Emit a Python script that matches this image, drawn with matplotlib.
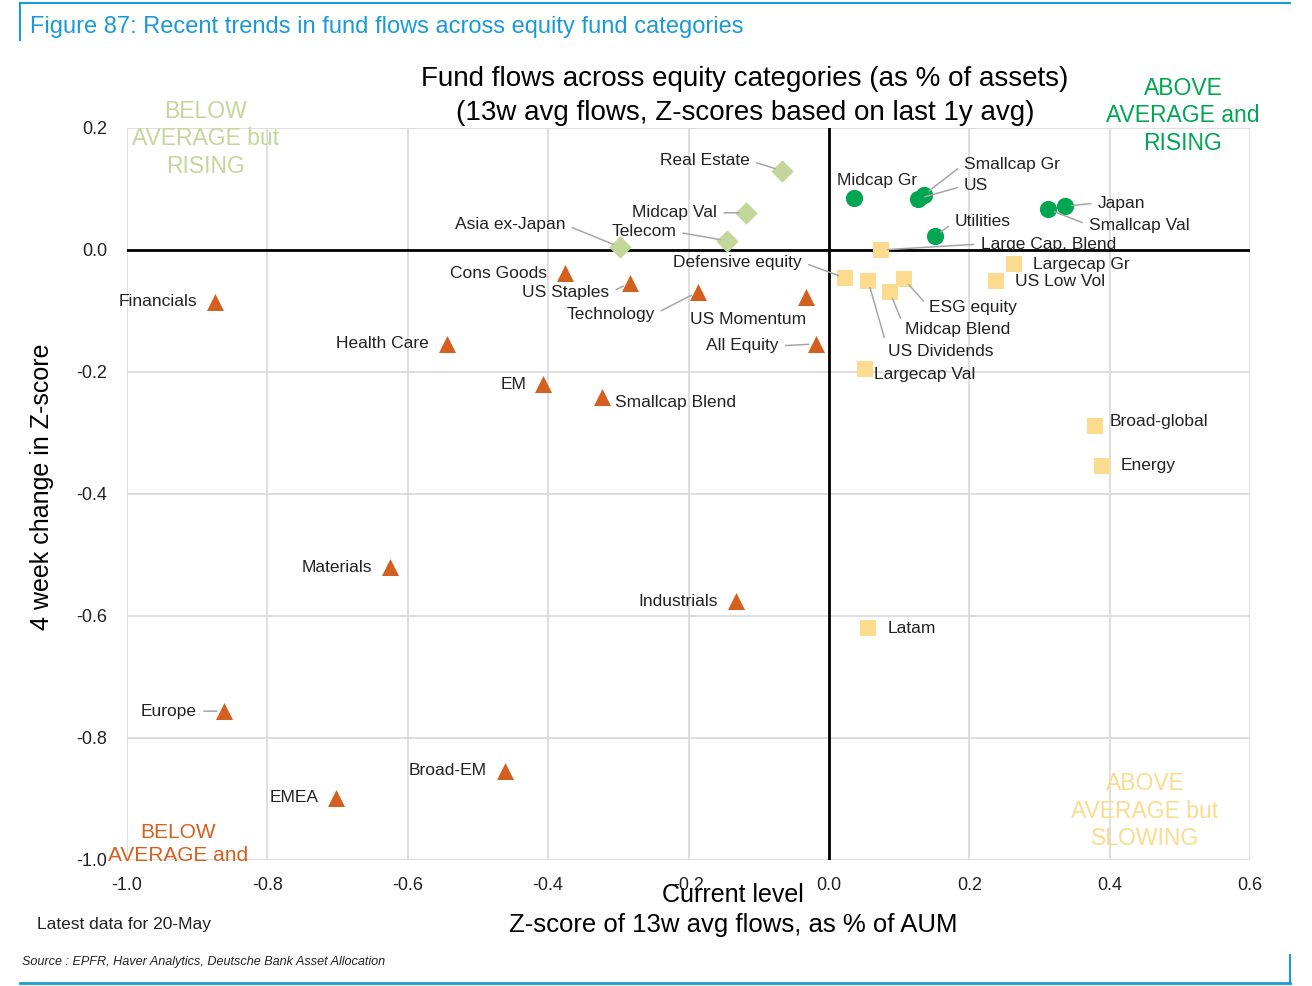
import matplotlib
matplotlib.use("Agg")
import matplotlib.pyplot as plt
from matplotlib.lines import Line2D

plt.rcParams['font.family'] = ['Liberation Sans', 'DejaVu Sans']

# ---- data ----
green_names = ["Midcap Gr", "Smallcap Gr", "US", "Japan", "Smallcap Val", "Utilities"]
green_x = [0.036, 0.135, 0.127, 0.336, 0.312, 0.151]
green_y = [0.085, 0.090, 0.084, 0.072, 0.067, 0.023]

lgreen_names = ["Real Estate", "Midcap Val", "Telecom", "Asia ex-Japan"]
lgreen_x = [-0.067, -0.118, -0.145, -0.298]
lgreen_y = [0.130, 0.061, 0.015, 0.005]

orange_names = ["Financials", "Cons Goods", "US Staples", "Technology", "US Momentum",
                "All Equity", "Health Care", "EM", "Smallcap Blend", "Materials",
                "Industrials", "Europe", "Broad-EM", "EMEA"]
orange_x = [-0.875, -0.376, -0.284, -0.187, -0.033, -0.019, -0.544, -0.407, -0.323,
            -0.625, -0.132, -0.862, -0.462, -0.702]
orange_y = [-0.085, -0.038, -0.054, -0.069, -0.077, -0.154, -0.154, -0.220, -0.241,
            -0.520, -0.575, -0.756, -0.854, -0.898]

yellow_names = ["Large Cap. Blend", "Defensive equity", "US Dividends", "ESG equity",
                "Midcap Blend", "Largecap Gr", "US Low Vol", "Largecap Val",
                "Broad-global", "Energy", "Latam"]
yellow_x = [0.074, 0.023, 0.056, 0.107, 0.087, 0.264, 0.238, 0.051, 0.379, 0.389, 0.056]
yellow_y = [0.000, -0.046, -0.051, -0.048, -0.069, -0.023, -0.051, -0.195, -0.289, -0.354, -0.620]

x_ticks = [-1.0, -0.8, -0.6, -0.4, -0.2, 0.0, 0.2, 0.4, 0.6]
y_ticks = [0.2, 0.0, -0.2, -0.4, -0.6, -0.8, -1.0]

# label layout: (dx px, dy px, ha, leader line)
label_layout = {
    "Midcap Gr": (-17, 18, 'left', False),
    "Smallcap Gr": (40, 31, 'left', True),
    "US": (46, 13, 'left', True),
    "Japan": (33, 3, 'left', True),
    "Smallcap Val": (41, -16, 'left', True),
    "Utilities": (20, 14, 'left', True),
    "Real Estate": (-32, 10, 'right', True),
    "Midcap Val": (-29, 0, 'right', True),
    "Telecom": (-51, 9, 'right', True),
    "Asia ex-Japan": (-54, 22, 'right', True),
    "Financials": (-17, 0, 'right', False),
    "Cons Goods": (-18, 0, 'right', False),
    "US Staples": (-20, -10, 'right', True),
    "Technology": (-43, -22, 'right', True),
    "US Momentum": (-116, -23, 'left', False),
    "All Equity": (-37, -2, 'right', True),
    "Health Care": (-18, 0, 'right', False),
    "EM": (-17, 0, 'right', False),
    "Smallcap Blend": (13, -5, 'left', False),
    "Materials": (-18, 0, 'right', False),
    "Industrials": (-18, -1, 'right', False),
    "Europe": (-27, 0, 'right', True),
    "Broad-EM": (-18, 0, 'right', False),
    "EMEA": (-18, 0, 'right', False),
    "Large Cap. Blend": (100, 6, 'left', True),
    "Defensive equity": (-43, 16, 'right', True),
    "US Dividends": (20, -70, 'left', True),
    "ESG equity": (25, -28, 'left', True),
    "Midcap Blend": (15, -37, 'left', True),
    "Largecap Gr": (19, 0, 'left', False),
    "US Low Vol": (19, 0, 'left', False),
    "Largecap Val": (9, -6, 'left', False),
    "Broad-global": (15, 5, 'left', False),
    "Energy": (19, 0, 'left', False),
    "Latam": (19, 0, 'left', False),
}

C_GREEN = '#00a651'
C_LGREEN = '#c4d79b'
C_ORANGE = '#d4601f'
C_YELLOW = '#fbdc8e'
C_BLUE = '#1a9bd7'

fig = plt.figure(figsize=(13.12, 9.86), dpi=100)
ax = fig.add_axes([127/1312, 1-860/986, (1250-127)/1312, (860-128)/986])
ax.set_xlim(-1.0, 0.6)
ax.set_ylim(-1.0, 0.2)
ax.set_xticks(x_ticks)
ax.set_yticks(y_ticks)
ax.set_xticklabels([f"{v:.1f}" for v in x_ticks])
ax.set_yticklabels([f"{v:.1f}" for v in y_ticks])
ax.tick_params(length=0, labelsize=13, colors='#222222')
ax.tick_params(axis='x', pad=12)
ax.tick_params(axis='y', pad=14)
ax.grid(True, color='#d9d9d9', lw=1.2)
ax.set_axisbelow(True)
for s in ax.spines.values():
    s.set_visible(False)
ax.axhline(0, color='black', lw=2, zorder=2)
ax.axvline(0, color='black', lw=2, zorder=2)

ax.scatter(green_x, green_y, s=130, marker='o', color=C_GREEN, zorder=4)
ax.scatter(lgreen_x, lgreen_y, s=110, marker='D', color=C_LGREEN, zorder=4)
ax.scatter(orange_x, orange_y, s=150, marker='^', color=C_ORANGE, zorder=4, linewidths=0)
ax.scatter(yellow_x, yellow_y, s=140, marker='s', color=C_YELLOW, zorder=4, linewidths=0)

def add_labels(names, xs, ys):
    for n, x, y in zip(names, xs, ys):
        dx, dy, ha, line = label_layout[n]
        kw = {}
        if line:
            kw['arrowprops'] = dict(arrowstyle='-', color='#a6a6a6', lw=1.1,
                                    shrinkA=3, shrinkB=5,
                                    relpos=(1, 0.5) if ha == 'right' else (0, 0.5))
        ax.annotate(n, xy=(x, y), xytext=(dx, dy), textcoords='offset pixels',
                    ha=ha, va='center', fontsize=12.5, color='#222222', zorder=5, **kw)

add_labels(green_names, green_x, green_y)
add_labels(lgreen_names, lgreen_x, lgreen_y)
add_labels(orange_names, orange_x, orange_y)
add_labels(yellow_names, yellow_x, yellow_y)

# quadrant labels
fig.text(206/1312, 1-139/986, "BELOW\nAVERAGE but\nRISING", color=C_LGREEN, fontsize=16.5,
         ha='center', va='center', linespacing=1.25)
fig.text(1183/1312, 1-116/986, "ABOVE\nAVERAGE and\nRISING", color=C_GREEN, fontsize=16.5,
         ha='center', va='center', linespacing=1.25)
fig.text(1145/1312, 1-811/986, "ABOVE\nAVERAGE but\nSLOWING", color=C_YELLOW, fontsize=16.5,
         ha='center', va='center', linespacing=1.25)
fig.text(178/1312, 1-844/986, "BELOW\nAVERAGE and", color=C_ORANGE, fontsize=15,
         ha='center', va='center', linespacing=1.25)

# titles
fig.text(745/1312, 1-79/986, "Fund flows across equity categories (as % of assets)",
         fontsize=20, ha='center', va='center', color='black')
fig.text(745/1312, 1-113/986, "(13w avg flows, Z-scores based on last 1y avg)",
         fontsize=20, ha='center', va='center', color='black')

# axis labels
fig.text(42/1312, 1-487/986, "4 week change in Z-score", rotation=90, fontsize=18,
         ha='center', va='center')
fig.text(733/1312, 1-895/986, "Current level", fontsize=18, ha='center', va='center')
fig.text(733/1312, 1-925/986, "Z-score of 13w avg flows, as % of AUM", fontsize=18.5,
         ha='center', va='center')
fig.text(37/1312, 1-925/986, "Latest data for 20-May", fontsize=12.5, ha='left', va='center',
         color='#222222')

# header / footer
fig.text(30/1312, 1-27/986, "Figure 87: Recent trends in fund flows across equity fund categories",
         fontsize=17, color=C_BLUE, ha='left', va='center')
fig.text(22/1312, 1-962/986, "Source : EPFR, Haver Analytics, Deutsche Bank Asset Allocation",
         fontsize=9.1, style='italic', ha='left', va='center', color='#222222')

def fline(x0, y0, x1, y1, lw=1.5):
    fig.add_artist(Line2D([x0/1312, x1/1312], [1-y0/986, 1-y1/986], color=C_BLUE, lw=lw,
                          transform=fig.transFigure))

fline(20, 3, 1290, 3)
fline(20, 3, 20, 40)
fline(20, 983, 1290, 983, lw=2)
fline(1290, 955, 1290, 983)

fig.savefig("out.png", dpi=100)
